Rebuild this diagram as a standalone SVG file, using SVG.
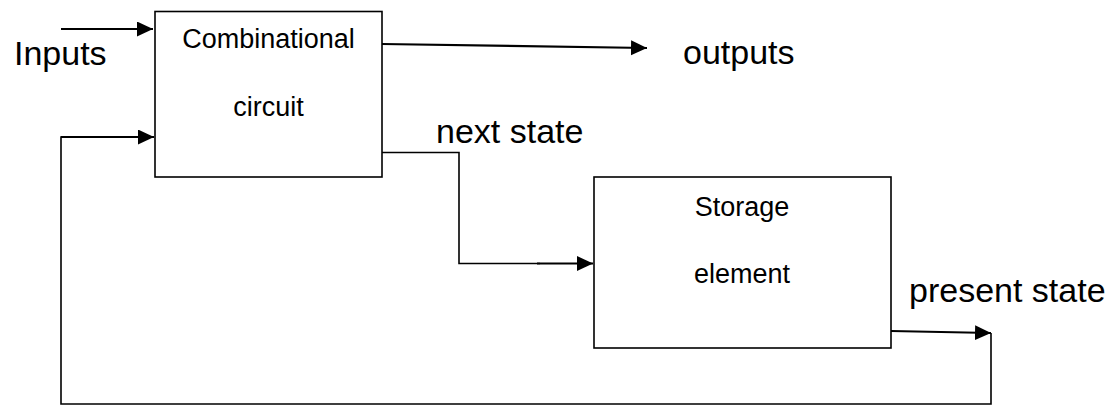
<svg xmlns="http://www.w3.org/2000/svg" width="1115" height="405" viewBox="0 0 1115 405">
  <style>
    .box { fill: #ffffff; stroke: #000000; stroke-width: 1.6; }
    .wire { fill: none; stroke: #000000; stroke-width: 1.6; }
    .arrow { fill: none; stroke: #000000; stroke-width: 2.2; }
    .big { font-family: "Liberation Sans", Arial, sans-serif; font-size: 34px; fill: #000000; }
    .lbl { font-family: "Liberation Sans", Arial, sans-serif; font-size: 27px; fill: #000000; text-anchor: middle; }
  </style>
  <defs>
    <marker id="arr" markerUnits="userSpaceOnUse" markerWidth="17" markerHeight="16" refX="16" refY="7.5" orient="auto">
      <path d="M0,0 L16,7.5 L0,15 z" fill="#000000"/>
    </marker>
  </defs>

  <rect width="1115" height="405" fill="#ffffff"/>

  <g id="combinational">
    <rect class="box" x="155" y="11.5" width="227" height="165.5"/>
    <text class="lbl" x="268.5" y="48">Combinational</text>
    <text class="lbl" x="268.5" y="116">circuit</text>
  </g>

  <g id="storage">
    <rect class="box" x="594" y="177" width="297" height="171"/>
    <text class="lbl" x="742" y="216">Storage</text>
    <text class="lbl" x="742" y="283">element</text>
  </g>

  <g id="labels">
    <text class="big" x="14" y="65">Inputs</text>
    <text class="big" x="683" y="64">outputs</text>
    <text class="big" x="436" y="143">next state</text>
    <text class="big" x="909" y="302">present state</text>
  </g>

  <g id="connectors">
    <line class="arrow" x1="61" y1="29" x2="153" y2="29" marker-end="url(#arr)"/>
    <line class="arrow" x1="382" y1="44" x2="647" y2="48" marker-end="url(#arr)"/>
    <polyline class="wire" points="382,152.5 459,152.5 459,263.5 540,263.5"/>
    <line class="arrow" x1="537" y1="263.5" x2="593" y2="263.5" marker-end="url(#arr)"/>
    <line class="arrow" x1="891" y1="331" x2="991" y2="333" marker-end="url(#arr)"/>
    <polyline class="wire" points="991,333 991,404 61,404 61,137 100,137"/>
    <line class="arrow" x1="61" y1="137" x2="154" y2="137" marker-end="url(#arr)"/>
  </g>
</svg>
